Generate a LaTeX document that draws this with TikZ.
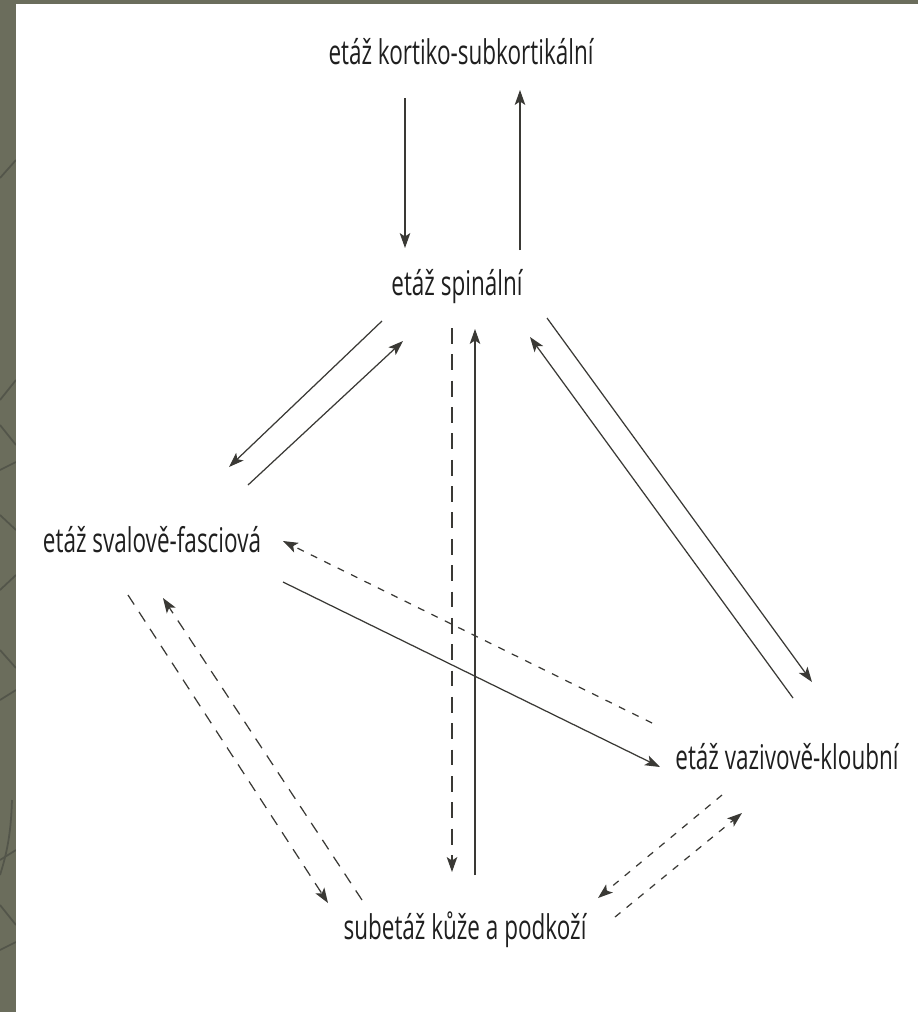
\documentclass[tikz,border=0pt]{standalone}
\usepackage{fontspec}
\newfontfamily\etazfont[FakeStretch=0.66]{Open Sans}
\usepackage{tikz}
\usetikzlibrary{arrows.meta, positioning, calc}
\definecolor{linegray}{HTML}{3A3935}
\definecolor{bgolive}{HTML}{6B6D5C}
\definecolor{stripline}{HTML}{53554A}

\begin{document}
\begin{tikzpicture}
            [->, >={Stealth[length=8.5pt,width=6pt,inset=2pt]}, x=0.02cm, y=-0.02cm,
            line width=0.7pt, color=linegray,
            etaz/.style={rectangle, align=center, inner sep=0pt, text=black!88,
                font=\etazfont\fontsize{19.4}{21}\selectfont},
            longdash/.style={dash pattern=on 9pt off 6pt},
            middash/.style={dash pattern=on 6.5pt off 5pt},
            shortdash/.style={dash pattern=on 4pt off 4.5pt}]

            % slide background
            \fill[-, bgolive] (0,0) rectangle (918,1012);
            \begin{scope}[-]
                \clip (0,0) rectangle (16,1012);
                \foreach \ya/\yb in {178/160, 400/380, 425/445, 470/462, 515/530, 590/575, 650/668, 700/690, 860/850, 905/925, 950/942}
                    \draw[stripline, line width=1pt] (0,\ya) -- (16,\yb);
                \draw[stripline, line width=1pt] (12,800) .. controls (11,830) and (8,850) .. (0,875);
            \end{scope}
            \fill[-, white] (16,4) rectangle (918,1012);

            \node[etaz] (kort) at (461,52) {etáž kortiko-subkortikální};
            \node[etaz] (spin) at (457,287) {etáž spinální};
            \node[etaz] (sval) at (152,540) {etáž svalově-fasciová};
            \node[etaz] (vaz) at (787,757) {etáž vazivově-kloubní};
            \node[etaz] (kuze) at (465,930) {subetáž kůže a podkoží};

            \draw ($(kort)+(-56,46)$) -- ($(spin)+(-52,-39)$);
            \draw ($(spin)+(63,-37)$) -- ($(kort)+(59,38)$);
            \draw ($(spin)+(-75,34)$) -- ($(sval)+(77,-73)$);
            \draw ($(sval)+(96,-55)$) -- ($(spin)+(-54,54)$);
            \draw[longdash] ($(spin)+(-5,41)$) -- ($(kuze)+(-13,-58)$);
            \draw ($(kuze)+(10,-55)$) -- ($(spin)+(18,42)$);
            \draw ($(spin)+(90,31)$) -- ($(vaz)+(25,-75)$);
            \draw ($(vaz)+(6,-59)$) -- ($(spin)+(73,50)$);
            \draw ($(sval)+(131,42)$) -- ($(vaz)+(-127,10)$);
            \draw[shortdash] ($(vaz)+(-135,-34)$) -- ($(sval)+(131,1)$);
            \draw[middash] ($(sval)+(-24,55)$) -- ($(kuze)+(-137,-27)$);
            \draw[middash] ($(kuze)+(-103,-30)$) -- ($(sval)+(11,58)$);
            \draw[shortdash] ($(vaz)+(-65,38)$) -- ($(kuze)+(133,-32)$);
            \draw[shortdash] ($(kuze)+(150,-13)$) -- ($(vaz)+(-45,56)$);
        \end{tikzpicture}
\end{document}
